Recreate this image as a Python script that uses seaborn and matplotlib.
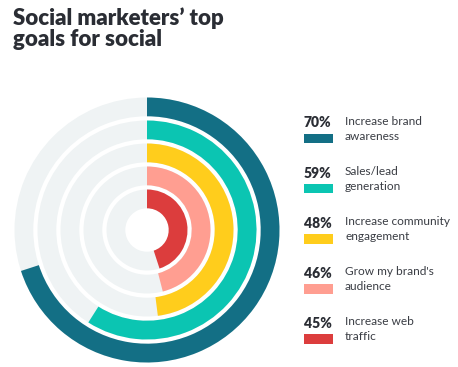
import numpy as np
import matplotlib
matplotlib.use("Agg")
import matplotlib.pyplot as plt
import seaborn as sns
from matplotlib.patches import Rectangle

# data (outer ring first)
goals = ["Increase brand\nawareness", "Sales/lead\ngeneration", "Increase community\nengagement",
         "Grow my brand's\naudience", "Increase web\ntraffic"]
pcts = [70, 59, 48, 46, 45]
colors = ["#136F85", "#0BC5B2", "#FFCD1C", "#FF9E91", "#DC3D3D"]
track_color = "#EFF3F4"
title = "Social marketers\u2019 top\ngoals for social"

sns.set_theme(style="white")
plt.rcParams['font.family'] = ['Lato', 'DejaVu Sans']

W, H = 458, 367
fig = plt.figure(figsize=(W / 100, H / 100), dpi=100)

# polar axes: center ~ (147, 230) px, outer radius ~133 px
cx, cy, R = 147, 230, 133.5
ax = fig.add_axes([(cx - R) / W, 1 - (cy + R) / H, 2 * R / W, 2 * R / H], projection="polar")
ax.set_theta_zero_location("N")
ax.set_theta_direction(-1)
ax.set_ylim(0, R)

hole, step, thick = 21.7, 23.0, 18.8
n = len(pcts)
for i, (p, c) in enumerate(zip(pcts, colors)):
    r_in = hole + (n - 1 - i) * step
    ax.bar(0, thick, width=2 * np.pi, bottom=r_in, align="edge", color=track_color, linewidth=0)
    ax.bar(0, thick, width=p / 100 * 2 * np.pi, bottom=r_in, align="edge", color=c, linewidth=0)

ax.set_axis_off()

# title
fig.text(13 / W, 1 - 7 / H, title, ha="left", va="top", fontsize=16, fontweight="heavy",
         color="#2A2D34", linespacing=1.0)

# legend
y0, dy = 123, 50
for i, (g, p, c) in enumerate(zip(goals, pcts, colors)):
    y = y0 + i * dy
    fig.text(304 / W, 1 - y / H, f"{p}%", ha="left", va="center", fontsize=10,
             fontweight="heavy", color="#2A2D34")
    fig.patches.append(Rectangle((304 / W, 1 - (y + 20.5) / H), 28.5 / W, 10 / H,
                                 transform=fig.transFigure, color=c, linewidth=0))
    fig.text(345 / W, 1 - (y - 7) / H, g, ha="left", va="top", fontsize=8.6,
             color="#3A3D44", linespacing=1.4)

fig.savefig("out.png", dpi=100)
